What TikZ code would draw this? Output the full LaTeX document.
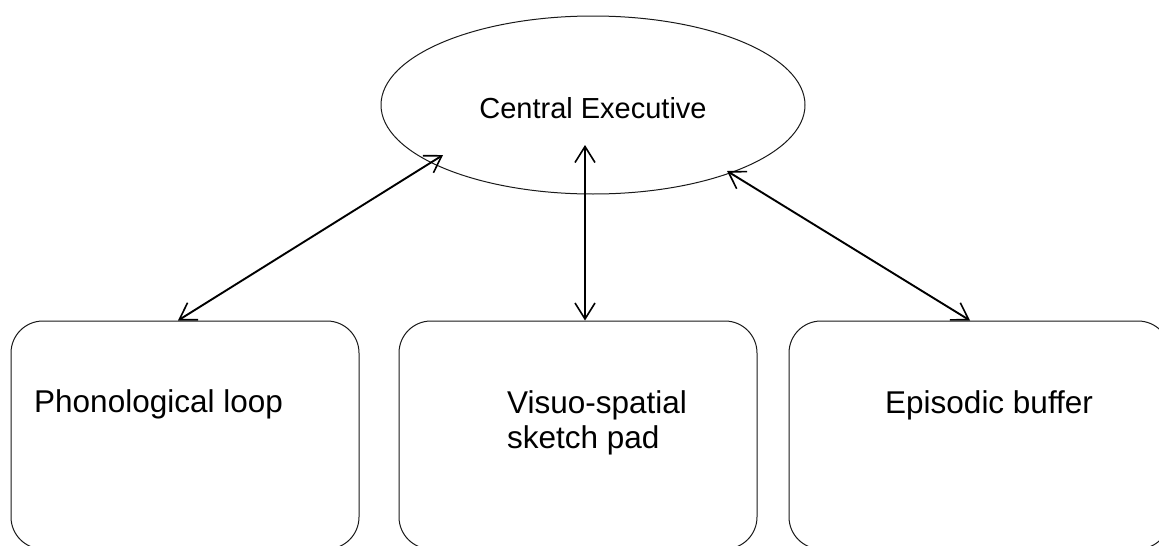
\documentclass[tikz,border=0pt]{standalone}
\usepackage{fontspec}
\setmainfont{Liberation Sans}
\usetikzlibrary{shapes.geometric,arrows.meta}
\begin{document}
\begin{tikzpicture}[x=1pt,y=-1pt,
  compbox/.style={draw=black!90, line width=1pt, rounded corners=32pt, inner sep=0pt},
  ceell/.style={draw=black!90, line width=1pt, ellipse, inner sep=0pt, minimum width=424pt, minimum height=178pt, font=\fontsize{29}{35}\selectfont, text height=31pt, text depth=5pt},
  lbl/.style={anchor=base west, inner sep=0pt, font=\fontsize{31.5}{35}\selectfont, align=left},
  link/.style={line width=1.9pt, {Straight Barb[length=16pt,width=20pt,line width=1.6pt]}-{Straight Barb[length=16pt,width=20pt,line width=1.6pt]}}]
\useasboundingbox (0,0) rectangle (1159,546);
\clip (0,0) rectangle (1159,546);
\fill[white] (0,0) rectangle (1159,546);
\node[ceell] (ce) at (593,105) {Central Executive};
\node[compbox, minimum width=348pt, minimum height=228pt] (b1) at (185,435) {};
\node[compbox, minimum width=358pt, minimum height=228pt] (b2) at (578,435) {};
\node[compbox, minimum width=381pt, minimum height=228pt] (b3) at (979.5,435) {};
\node[lbl] (t1) at (34,412) {Phonological loop};
\node[lbl] (t2) at (507,448) {Visuo-spatial\\sketch pad};
\node[lbl] (t3) at (885,413) {Episodic buffer};
\coordinate (e1) at (443,155);
\coordinate (e2) at (585,145);
\coordinate (e3) at (727,171);
\draw[link] ([xshift=-7pt]b1.north) -- (e1);
\draw[link] ([xshift=7pt]b2.north) -- (e2);
\draw[link] ([xshift=-9.5pt]b3.north) -- (e3);
\end{tikzpicture}
\end{document}
